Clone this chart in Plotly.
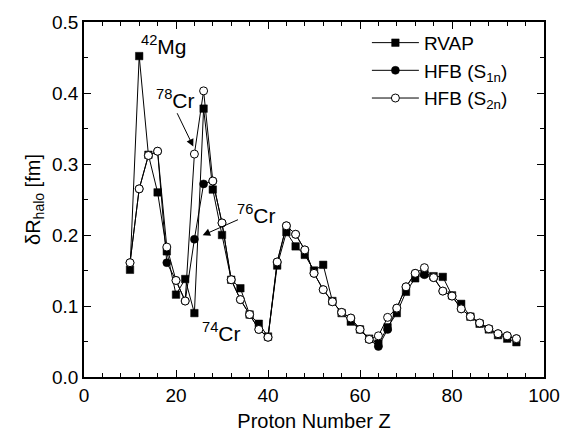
import plotly.graph_objects as go

# ---- data ----
Z = [10, 12, 14, 16, 18, 20, 22, 24, 26, 28, 30, 32, 34, 36, 38, 40, 42, 44, 46, 48,
     50, 52, 54, 56, 58, 60, 62, 64, 66, 68, 70, 72, 74, 76, 78, 80, 82, 84, 86, 88,
     90, 92, 94]

rvap = [0.151, 0.452, 0.313, 0.260, 0.177, 0.116, 0.138, 0.090, 0.378, 0.264,
        0.200, 0.137, 0.125, 0.088, 0.075, 0.057, 0.157, 0.204, 0.184, 0.172,
        0.150, 0.158, 0.107, 0.090, 0.078, 0.067, 0.054, 0.047, 0.070, 0.090,
        0.120, 0.139, 0.146, 0.142, 0.141, 0.115, 0.103, 0.085, 0.075, 0.067,
        0.059, 0.054, 0.049]

hfb_s1n = [0.161, 0.265, 0.312, 0.318, 0.161, 0.136, 0.107, 0.194, 0.272, 0.276,
           0.217, 0.137, 0.109, 0.088, 0.067, 0.056, 0.162, 0.213, 0.201, 0.179,
           0.146, 0.123, 0.106, 0.091, 0.083, 0.067, 0.053, 0.043, 0.067, 0.097,
           0.127, 0.146, 0.144, 0.140, 0.121, 0.114, 0.096, 0.085, 0.076, 0.068,
           0.061, 0.058, 0.054]

hfb_s2n = [0.161, 0.265, 0.312, 0.318, 0.183, 0.136, 0.107, 0.314, 0.403, 0.276,
           0.217, 0.137, 0.109, 0.088, 0.067, 0.056, 0.162, 0.213, 0.201, 0.179,
           0.146, 0.123, 0.106, 0.091, 0.083, 0.067, 0.053, 0.058, 0.084, 0.097,
           0.127, 0.146, 0.154, 0.140, 0.121, 0.114, 0.096, 0.085, 0.076, 0.068,
           0.061, 0.058, 0.054]

series_names = ["RVAP", "HFB (S<sub>1n</sub>)", "HFB (S<sub>2n</sub>)"]

FONT = "Arial, Liberation Sans, Helvetica, sans-serif"

fig = go.Figure()
fig.add_trace(go.Scatter(
    x=Z, y=rvap, name=series_names[0], mode="lines+markers",
    line=dict(color="black", width=1),
    marker=dict(symbol="square", size=7.5, color="black",
                line=dict(color="black", width=0.5))))
fig.add_trace(go.Scatter(
    x=Z, y=hfb_s1n, name=series_names[1], mode="lines+markers",
    line=dict(color="black", width=1),
    marker=dict(symbol="circle", size=8, color="black",
                line=dict(color="black", width=0.5))))
fig.add_trace(go.Scatter(
    x=Z, y=hfb_s2n, name=series_names[2], mode="lines+markers",
    line=dict(color="black", width=1),
    marker=dict(symbol="circle", size=8, color="white",
                line=dict(color="black", width=1))))

ann_font = dict(family=FONT, size=21, color="black")
annotations = [
    dict(x=17.4, y=0.468, text="<sup>42</sup>Mg", showarrow=False),
    dict(x=19.9, y=0.392, text="<sup>78</sup>Cr", showarrow=False),
    dict(x=37.6, y=0.229, text="<sup>76</sup>Cr", showarrow=False),
    dict(x=29.8, y=0.064, text="<sup>74</sup>Cr", showarrow=False),
    dict(x=23.76, y=0.3246, ax=20.1, ay=0.3736, axref="x", ayref="y",
         text="", showarrow=True, arrowhead=2, arrowsize=1.5, arrowwidth=1,
         arrowcolor="black", standoff=0),
    dict(x=25.8, y=0.1996, ax=33.8, ay=0.2225, axref="x", ayref="y",
         text="", showarrow=True, arrowhead=2, arrowsize=1.5, arrowwidth=1,
         arrowcolor="black", standoff=0),
]
for a in annotations:
    a.setdefault("xref", "x")
    a.setdefault("yref", "y")
    a["font"] = ann_font

fig.update_layout(
    width=575, height=441,
    margin=dict(l=84, r=31, t=13, b=64),
    paper_bgcolor="white", plot_bgcolor="white",
    font=dict(family=FONT, size=19, color="black"),
    showlegend=True,
    legend=dict(x=0.615, y=0.995, xanchor="left", yanchor="top",
                bgcolor="rgba(0,0,0,0)", font=dict(family=FONT, size=19),
                itemwidth=47, tracegroupgap=4),
    annotations=annotations,
)

axis_common = dict(
    showline=True, linecolor="black", linewidth=1.5, mirror="allticks",
    ticks="inside", ticklen=7, tickwidth=1.2, tickcolor="black",
    showgrid=False, zeroline=False,
    tickfont=dict(family=FONT, size=19, color="black"),
)
fig.update_xaxes(
    range=[0, 100], dtick=20, tick0=0,
    title=dict(text="Proton Number Z", font=dict(family=FONT, size=20), standoff=9),
    minor=dict(dtick=4, ticks="inside", ticklen=4, tickwidth=1, tickcolor="black"),
    **axis_common)
fig.update_yaxes(
    range=[0, 0.5], dtick=0.1, tick0=0, tickformat=".1f",
    title=dict(text="δR<sub>halo</sub> [fm]", font=dict(family=FONT, size=20), standoff=6),
    minor=dict(dtick=0.05, ticks="inside", ticklen=4, tickwidth=1, tickcolor="black"),
    **axis_common)

fig.write_html("out.html")
